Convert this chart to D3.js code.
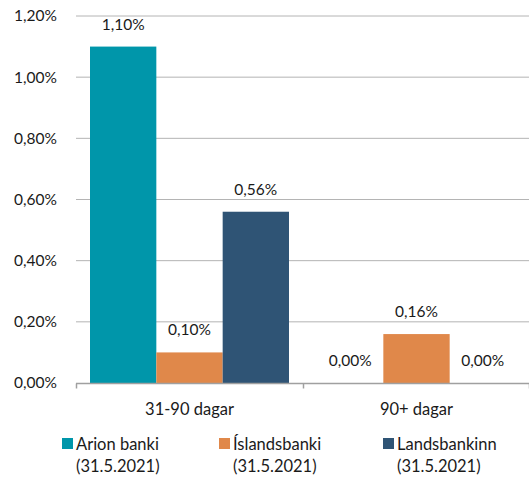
<!DOCTYPE html>
<html>
<head>
<meta charset="utf-8">
<script src="https://d3js.org/d3.v7.min.js"></script>
<style>
  body { margin: 0; background: #fff; }
  text { font-family: Lato, "Open Sans", sans-serif; fill: #1a1a1a; }
</style>
</head>
<body>
<div id="chart"></div>
<script>
const width = 529, height = 477;

const categories = ['31-90 dagar', '90+ dagar'];
const series = ['Arion banki', 'Íslandsbanki', 'Landsbankinn'];
const seriesDate = '(31.5.2021)';
const colors = ['#0096aa', '#e0884a', '#2f5475'];
// values in percent, per series, per category
const arion = [1.10, 0.00];
const islandsbanki = [0.10, 0.16];
const landsbankinn = [0.56, 0.00];
const yTicks = [0, 0.2, 0.4, 0.6, 0.8, 1.0, 1.2];

const values = [arion, islandsbanki, landsbankinn];

const margin = {top: 16, right: 0, bottom: 94, left: 76};

let svg = d3.select('#chart').append('svg')
    .attr('width', width)
    .attr('height', height);

let x0 = d3.scaleBand()
    .domain(categories)
    .range([margin.left, width + 1]);

let x1 = d3.scaleBand()
    .domain(series)
    .range([14, x0.bandwidth() - 14]);

let y = d3.scaleLinear()
    .domain([0, 1.2])
    .range([height - margin.bottom, margin.top]);

const fmt = v => v.toFixed(2).replace('.', ',') + '%';

// gridlines
svg.append('g')
    .selectAll('line')
    .data(yTicks.filter(t => t > 0))
    .enter()
    .append('line')
    .attr('x1', margin.left)
    .attr('x2', width)
    .attr('y1', d => y(d))
    .attr('y2', d => y(d))
    .attr('stroke', '#b4b4b4')
    .attr('stroke-width', 1);

// y labels
svg.append('g')
    .selectAll('text')
    .data(yTicks)
    .enter()
    .append('text')
    .attr('x', 57)
    .attr('y', d => y(d))
    .attr('dy', '.35em')
    .attr('text-anchor', 'end')
    .style('font-size', '15.5px')
    .text(fmt);

// bars
let groups = svg.append('g')
    .selectAll('g')
    .data(categories)
    .enter()
    .append('g')
    .attr('transform', d => 'translate(' + x0(d) + ',0)');

groups.selectAll('rect')
    .data((c, ci) => series.map((s, si) => ({s: s, si: si, v: values[si][ci]})))
    .enter()
    .append('rect')
    .attr('x', d => x1(d.s))
    .attr('width', x1.bandwidth())
    .attr('y', d => y(d.v))
    .attr('height', d => y(0) - y(d.v))
    .attr('fill', d => colors[d.si]);

groups.selectAll('text')
    .data((c, ci) => series.map((s, si) => ({s: s, si: si, v: values[si][ci]})))
    .enter()
    .append('text')
    .attr('x', d => x1(d.s) + x1.bandwidth() / 2)
    .attr('y', d => y(d.v) - 17)
    .attr('text-anchor', 'middle')
    .style('font-size', '15.5px')
    .text(d => fmt(d.v));

// x axis line
let base = y(0) + 0.5;
svg.append('line')
    .attr('x1', margin.left)
    .attr('x2', width)
    .attr('y1', base)
    .attr('y2', base)
    .attr('stroke', '#a0a0a0')
    .attr('stroke-width', 1.5);

svg.append('g')
    .selectAll('line')
    .data(categories.map(c => x0(c)).concat([width]))
    .enter()
    .append('line')
    .attr('x1', d => Math.round(d) + 0.5)
    .attr('x2', d => Math.round(d) + 0.5)
    .attr('y1', base)
    .attr('y2', base + 5)
    .attr('stroke', '#a0a0a0')
    .attr('stroke-width', 1.5);

svg.append('g')
    .selectAll('text')
    .data(categories)
    .enter()
    .append('text')
    .attr('x', d => x0(d) + x0.bandwidth() / 2)
    .attr('y', base + 31)
    .attr('text-anchor', 'middle')
    .style('font-size', '16.5px')
    .text(d => d);

// legend
const legendX = [62, 219, 383];
let legend = svg.append('g')
    .selectAll('g')
    .data(series)
    .enter()
    .append('g')
    .attr('transform', (d, i) => 'translate(' + legendX[i] + ',438)');

legend.append('rect')
    .attr('width', 11)
    .attr('height', 11)
    .attr('fill', (d, i) => colors[i]);

legend.append('text')
    .attr('x', 14)
    .attr('y', 12)
    .style('font-size', '16.5px')
    .text(d => d);

legend.append('text')
    .attr('x', 14)
    .attr('y', 34)
    .style('font-size', '16.5px')
    .text(seriesDate);
</script>
</body>
</html>
